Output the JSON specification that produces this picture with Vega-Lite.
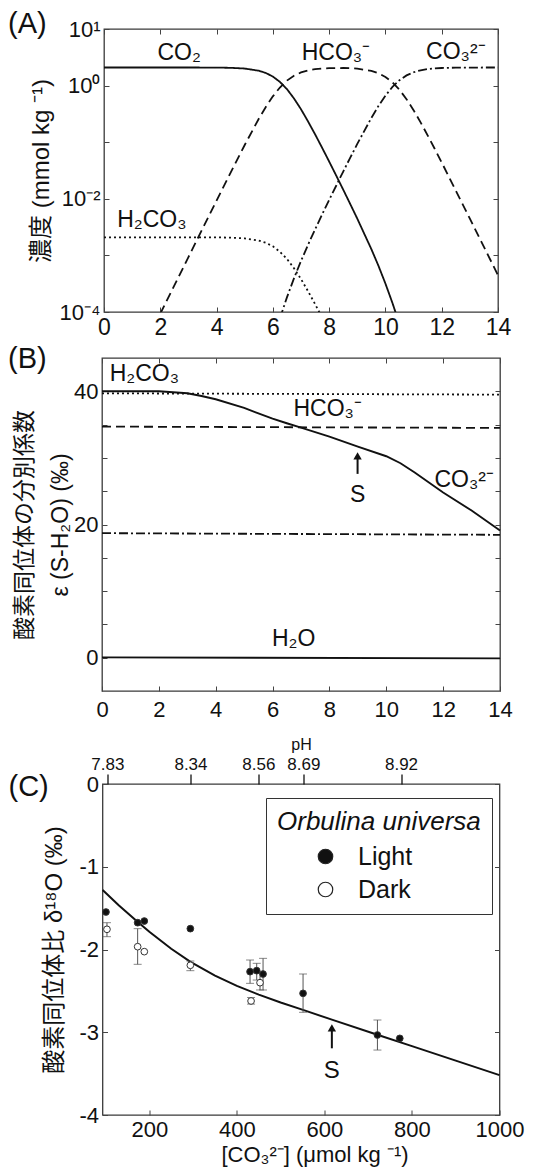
{
  "$schema": "https://vega.github.io/schema/vega-lite/v6.json",
  "padding": {"left": 7, "top": 9, "right": 5, "bottom": 5},
  "bounds": "flush",
  "center": true,
  "spacing": 46,
  "config": {
    "font": "Liberation Sans",
    "view": {"stroke": "#3a3a3a", "strokeWidth": 1.3},
    "axis": {"domain": false, "grid": false, "tickColor": "#444", "tickWidth": 1, "tickSize": -5, "labelColor": "#111", "labelFont": "Liberation Sans", "labelFontSize": 22, "labelPadding": 9, "labelFlush": false, "labelOverlap": false, "titleColor": "#111", "titleFont": "Liberation Sans, Noto Sans CJK JP", "titleFontWeight": "normal", "titleFontSize": 23},
    "title": {"font": "Liberation Sans", "fontSize": 29, "fontWeight": "normal", "anchor": "start", "frame": "group", "offset": 0, "baseline": "alphabetic", "color": "#111"},
    "text": {"font": "Liberation Sans", "color": "#111"}
  },
  "datasets": {
    "a_curves": [
      {"sp": "CO2", "pH": 0, "conc": 2.09}, {"sp": "CO2", "pH": 2, "conc": 2.09}, {"sp": "CO2", "pH": 3, "conc": 2.09}, {"sp": "CO2", "pH": 4, "conc": 2.08}, {"sp": "CO2", "pH": 4.5, "conc": 2.061}, {"sp": "CO2", "pH": 5, "conc": 2.0}, {"sp": "CO2", "pH": 5.5, "conc": 1.832}, {"sp": "CO2", "pH": 5.75, "conc": 1.671}, {"sp": "CO2", "pH": 6, "conc": 1.445}, {"sp": "CO2", "pH": 6.25, "conc": 1.164}, {"sp": "CO2", "pH": 6.5, "conc": 0.867}, {"sp": "CO2", "pH": 6.75, "conc": 0.594}, {"sp": "CO2", "pH": 7, "conc": 0.382}, {"sp": "CO2", "pH": 7.25, "conc": 0.233}, {"sp": "CO2", "pH": 7.5, "conc": 0.138}, {"sp": "CO2", "pH": 7.75, "conc": 0.0798}, {"sp": "CO2", "pH": 8, "conc": 0.0456}, {"sp": "CO2", "pH": 8.25, "conc": 0.0258}, {"sp": "CO2", "pH": 8.5, "conc": 0.0145}, {"sp": "CO2", "pH": 8.75, "conc": 0.00807}, {"sp": "CO2", "pH": 9, "conc": 0.00446}, {"sp": "CO2", "pH": 9.5, "conc": 0.00129}, {"sp": "CO2", "pH": 9.75, "conc": 0.000659}, {"sp": "CO2", "pH": 10, "conc": 0.000318}, {"sp": "CO2", "pH": 10.25, "conc": 0.000144}, {"sp": "CO2", "pH": 10.4, "conc": 0.0000857},
      {"sp": "HCO3", "pH": 2, "conc": 0.0000933}, {"sp": "HCO3", "pH": 2.5, "conc": 0.000295}, {"sp": "HCO3", "pH": 3, "conc": 0.000933}, {"sp": "HCO3", "pH": 3.5, "conc": 0.00295}, {"sp": "HCO3", "pH": 4, "conc": 0.00929}, {"sp": "HCO3", "pH": 4.5, "conc": 0.0291}, {"sp": "HCO3", "pH": 5, "conc": 0.0893}, {"sp": "HCO3", "pH": 5.5, "conc": 0.259}, {"sp": "HCO3", "pH": 5.75, "conc": 0.42}, {"sp": "HCO3", "pH": 6, "conc": 0.646}, {"sp": "HCO3", "pH": 6.25, "conc": 0.925}, {"sp": "HCO3", "pH": 6.5, "conc": 1.225}, {"sp": "HCO3", "pH": 6.75, "conc": 1.496}, {"sp": "HCO3", "pH": 7, "conc": 1.706}, {"sp": "HCO3", "pH": 7.25, "conc": 1.854}, {"sp": "HCO3", "pH": 7.5, "conc": 1.95}, {"sp": "HCO3", "pH": 7.75, "conc": 2.004}, {"sp": "HCO3", "pH": 8, "conc": 2.037}, {"sp": "HCO3", "pH": 8.5, "conc": 2.046}, {"sp": "HCO3", "pH": 8.75, "conc": 2.028}, {"sp": "HCO3", "pH": 9, "conc": 1.991}, {"sp": "HCO3", "pH": 9.5, "conc": 1.82}, {"sp": "HCO3", "pH": 9.75, "conc": 1.656}, {"sp": "HCO3", "pH": 10, "conc": 1.422}, {"sp": "HCO3", "pH": 10.25, "conc": 1.14}, {"sp": "HCO3", "pH": 10.5, "conc": 0.843}, {"sp": "HCO3", "pH": 10.75, "conc": 0.575}, {"sp": "HCO3", "pH": 11, "conc": 0.368}, {"sp": "HCO3", "pH": 11.25, "conc": 0.224}, {"sp": "HCO3", "pH": 11.5, "conc": 0.132}, {"sp": "HCO3", "pH": 11.75, "conc": 0.0766}, {"sp": "HCO3", "pH": 12, "conc": 0.0438}, {"sp": "HCO3", "pH": 12.5, "conc": 0.014}, {"sp": "HCO3", "pH": 13, "conc": 0.00446}, {"sp": "HCO3", "pH": 13.5, "conc": 0.00141}, {"sp": "HCO3", "pH": 14, "conc": 0.000447},
      {"sp": "CO3", "pH": 6.25, "conc": 0.0000769}, {"sp": "CO3", "pH": 6.5, "conc": 0.000181}, {"sp": "CO3", "pH": 6.75, "conc": 0.000393}, {"sp": "CO3", "pH": 7, "conc": 0.000798}, {"sp": "CO3", "pH": 7.25, "conc": 0.00154}, {"sp": "CO3", "pH": 7.5, "conc": 0.00288}, {"sp": "CO3", "pH": 7.75, "conc": 0.00527}, {"sp": "CO3", "pH": 8, "conc": 0.00953}, {"sp": "CO3", "pH": 8.25, "conc": 0.017}, {"sp": "CO3", "pH": 8.5, "conc": 0.0303}, {"sp": "CO3", "pH": 8.75, "conc": 0.0533}, {"sp": "CO3", "pH": 9, "conc": 0.0931}, {"sp": "CO3", "pH": 9.5, "conc": 0.269}, {"sp": "CO3", "pH": 9.75, "conc": 0.435}, {"sp": "CO3", "pH": 10, "conc": 0.665}, {"sp": "CO3", "pH": 10.25, "conc": 0.948}, {"sp": "CO3", "pH": 10.5, "conc": 1.247}, {"sp": "CO3", "pH": 10.75, "conc": 1.514}, {"sp": "CO3", "pH": 11, "conc": 1.722}, {"sp": "CO3", "pH": 11.25, "conc": 1.866}, {"sp": "CO3", "pH": 11.5, "conc": 1.959}, {"sp": "CO3", "pH": 11.75, "conc": 2.014}, {"sp": "CO3", "pH": 12, "conc": 2.046}, {"sp": "CO3", "pH": 12.5, "conc": 2.075}, {"sp": "CO3", "pH": 13, "conc": 2.084}, {"sp": "CO3", "pH": 14, "conc": 2.089},
      {"sp": "H2CO3", "pH": 0, "conc": 0.00209}, {"sp": "H2CO3", "pH": 4, "conc": 0.00208}, {"sp": "H2CO3", "pH": 4.5, "conc": 0.00206}, {"sp": "H2CO3", "pH": 5, "conc": 0.002}, {"sp": "H2CO3", "pH": 5.5, "conc": 0.00183}, {"sp": "H2CO3", "pH": 5.75, "conc": 0.00167}, {"sp": "H2CO3", "pH": 6, "conc": 0.00145}, {"sp": "H2CO3", "pH": 6.25, "conc": 0.00116}, {"sp": "H2CO3", "pH": 6.5, "conc": 0.000867}, {"sp": "H2CO3", "pH": 6.75, "conc": 0.000594}, {"sp": "H2CO3", "pH": 7, "conc": 0.000382}, {"sp": "H2CO3", "pH": 7.25, "conc": 0.000233}, {"sp": "H2CO3", "pH": 7.5, "conc": 0.000138}, {"sp": "H2CO3", "pH": 7.75, "conc": 0.0000798}
    ],
    "a_labels": [
      {"label": "CO₂", "x": 2.67, "y": 2.83},
      {"label": "HCO₃⁻", "x": 8.24, "y": 2.83},
      {"label": "CO₃²⁻", "x": 12.5, "y": 2.9},
      {"label": "H₂CO₃", "x": 1.7, "y": 0.00324}
    ],
    "b_lines": [
      {"sp": "H2CO3", "pH": 0, "eps": 39.7}, {"sp": "H2CO3", "pH": 14, "eps": 39.5},
      {"sp": "HCO3", "pH": 0, "eps": 34.7}, {"sp": "HCO3", "pH": 14, "eps": 34.5},
      {"sp": "CO3", "pH": 0, "eps": 18.7}, {"sp": "CO3", "pH": 14, "eps": 18.45},
      {"sp": "H2O", "pH": 0, "eps": 0.05}, {"sp": "H2O", "pH": 14, "eps": -0.1},
      {"sp": "S", "pH": 0, "eps": 40.0}, {"sp": "S", "pH": 2, "eps": 40.0}, {"sp": "S", "pH": 3, "eps": 39.7}, {"sp": "S", "pH": 3.5, "eps": 39.3}, {"sp": "S", "pH": 4, "eps": 38.8}, {"sp": "S", "pH": 5, "eps": 37.5}, {"sp": "S", "pH": 6, "eps": 35.9}, {"sp": "S", "pH": 6.5, "eps": 35.2}, {"sp": "S", "pH": 7, "eps": 34.55}, {"sp": "S", "pH": 8, "eps": 33.2}, {"sp": "S", "pH": 9, "eps": 31.7}, {"sp": "S", "pH": 10, "eps": 30.25}, {"sp": "S", "pH": 10.5, "eps": 29.2}, {"sp": "S", "pH": 11, "eps": 27.8}, {"sp": "S", "pH": 11.5, "eps": 26.3}, {"sp": "S", "pH": 12, "eps": 24.8}, {"sp": "S", "pH": 13, "eps": 22.1}, {"sp": "S", "pH": 14, "eps": 19.1}
    ],
    "b_labels": [
      {"label": "H₂CO₃", "x": 1.49, "y": 41.5},
      {"label": "HCO₃⁻", "x": 7.94, "y": 36.3},
      {"label": "CO₃²⁻", "x": 12.74, "y": 25.6},
      {"label": "H₂O", "x": 6.74, "y": 1.7},
      {"label": "S", "x": 8.99, "y": 23.4}
    ],
    "b_arrow": [{"x": 8.99, "y": 27.6, "y2": 30.3}],
    "c_pts": [
      {"cond": "Light", "x": 100.9, "y": -1.547}, {"cond": "Light", "x": 173.3, "y": -1.676}, {"cond": "Light", "x": 188.5, "y": -1.656}, {"cond": "Light", "x": 293.7, "y": -1.748}, {"cond": "Light", "x": 430.1, "y": -2.268}, {"cond": "Light", "x": 445.3, "y": -2.256}, {"cond": "Light", "x": 459.8, "y": -2.296}, {"cond": "Light", "x": 551.2, "y": -2.53}, {"cond": "Light", "x": 721.1, "y": -3.033}, {"cond": "Light", "x": 772.2, "y": -3.074},
      {"cond": "Dark", "x": 103.2, "y": -1.756}, {"cond": "Dark", "x": 173.3, "y": -1.966}, {"cond": "Dark", "x": 188.5, "y": -2.026}, {"cond": "Dark", "x": 293.7, "y": -2.191}, {"cond": "Dark", "x": 432.4, "y": -2.622}, {"cond": "Dark", "x": 452.9, "y": -2.401}
    ],
    "c_err": [
      {"x": 430.1, "lo": -2.127, "hi": -2.409}, {"x": 445.3, "lo": -2.167, "hi": -2.369}, {"x": 459.8, "lo": -2.107, "hi": -2.489}, {"x": 551.2, "lo": -2.296, "hi": -2.759}, {"x": 721.1, "lo": -2.852, "hi": -3.215},
      {"x": 103.2, "lo": -1.676, "hi": -1.845}, {"x": 173.3, "lo": -1.748, "hi": -2.179}, {"x": 293.7, "lo": -2.139, "hi": -2.256}, {"x": 432.4, "lo": -2.58, "hi": -2.66}, {"x": 452.9, "lo": -2.288, "hi": -2.489}
    ],
    "c_curve": [
      {"x": 93.3, "y": -1.281}, {"x": 130, "y": -1.466}, {"x": 173, "y": -1.664}, {"x": 200, "y": -1.786}, {"x": 250, "y": -1.991}, {"x": 294, "y": -2.149}, {"x": 350, "y": -2.315}, {"x": 400, "y": -2.44}, {"x": 450, "y": -2.545}, {"x": 500, "y": -2.64}, {"x": 551, "y": -2.729}, {"x": 617, "y": -2.848}, {"x": 721, "y": -3.03}, {"x": 800, "y": -3.168}, {"x": 900, "y": -3.343}, {"x": 1000, "y": -3.518}
    ],
    "c_arrow": [{"x": 617, "y": -3.194, "y2": -2.946}],
    "c_labels": [{"label": "S", "x": 617, "y": -3.557}]
  },
  "vconcat": [
    {
      "width": 394, "height": 283,
      "title": {"text": "(A)", "dx": -96, "dy": 25},
      "resolve": {"axis": {"x": "independent", "y": "independent"}},
      "layer": [
        {
          "data": {"name": "a_curves"},
          "mark": {"type": "line", "clip": true, "strokeWidth": 1.8, "color": "#111"},
          "encoding": {
            "x": {"field": "pH", "type": "quantitative", "scale": {"domain": [0, 14], "nice": false, "zero": false}, "axis": {"orient": "bottom", "values": [0, 2, 4, 6, 8, 10, 12, 14], "title": null, "labelFontSize": 23}},
            "y": {"field": "conc", "type": "quantitative", "scale": {"type": "log", "domain": [0.0001, 10], "nice": false}, "axis": {"orient": "left", "values": [0.0001, 0.001, 0.01, 0.1, 1, 10], "labelExpr": "datum.value > 5 ? '10¹' : datum.value > 0.5 ? '10⁰' : (datum.value > 0.005 && datum.value < 0.05) ? '10⁻²' : datum.value < 0.0005 ? '10⁻⁴' : ''", "title": "濃度 (mmol kg ⁻¹)", "titleFontSize": 24, "titlePadding": 6}},
            "strokeDash": {"field": "sp", "type": "nominal", "scale": {"domain": ["CO2", "HCO3", "CO3", "H2CO3"], "range": [[1, 0], [9, 5], [9, 3, 2, 3], [2, 3]]}, "legend": null}
          }
        },
        {
          "data": {"name": "a_curves"},
          "mark": {"type": "point", "opacity": 0, "clip": true},
          "encoding": {
            "x": {"field": "pH", "type": "quantitative", "axis": {"orient": "top", "values": [0, 2, 4, 6, 8, 10, 12, 14], "labels": false, "title": null}},
            "y": {"field": "conc", "type": "quantitative", "scale": {"type": "log"}, "axis": {"orient": "right", "values": [0.0001, 0.001, 0.01, 0.1, 1, 10], "labels": false, "title": null}}
          }
        },
        {
          "data": {"name": "a_labels"},
          "mark": {"type": "text", "fontSize": 23, "baseline": "alphabetic", "align": "center"},
          "encoding": {
            "x": {"field": "x", "type": "quantitative", "axis": null},
            "y": {"field": "y", "type": "quantitative", "scale": {"type": "log"}, "axis": null},
            "text": {"field": "label"}
          }
        }
      ]
    },
    {
      "width": 398, "height": 333,
      "title": {"text": "(B)", "dx": -94, "dy": 20},
      "resolve": {"axis": {"x": "independent", "y": "independent"}},
      "layer": [
        {
          "data": {"name": "b_lines"},
          "transform": [{"filter": "datum.sp == 'S' || datum.sp == 'H2O'"}],
          "mark": {"type": "line", "strokeWidth": 1.9, "color": "#111"},
          "encoding": {
            "x": {"field": "pH", "type": "quantitative", "scale": {"domain": [0, 14], "nice": false, "zero": false}, "axis": {"orient": "bottom", "values": [0, 2, 4, 6, 8, 10, 12, 14], "title": null, "labelPadding": 13}},
            "y": {"field": "eps", "type": "quantitative", "scale": {"domain": [-5, 45], "nice": false, "zero": false}, "axis": {"orient": "left", "values": [0, 5, 10, 15, 20, 25, 30, 35, 40], "labelExpr": "datum.value % 20 === 0 ? '' + datum.value : ''", "title": ["酸素同位体の分別係数", "ε (S-H₂O) (‰)"], "titleLineHeight": 36, "titlePadding": 1}},
            "detail": {"field": "sp", "type": "nominal"}
          }
        },
        {
          "data": {"name": "b_lines"},
          "transform": [{"filter": "datum.sp != 'S' && datum.sp != 'H2O'"}],
          "mark": {"type": "line", "strokeWidth": 1.8, "color": "#111"},
          "encoding": {
            "x": {"field": "pH", "type": "quantitative", "axis": {"orient": "top", "values": [0, 2, 4, 6, 8, 10, 12, 14], "labels": false, "title": null}},
            "y": {"field": "eps", "type": "quantitative", "axis": {"orient": "right", "values": [0, 5, 10, 15, 20, 25, 30, 35, 40], "labels": false, "title": null}},
            "strokeDash": {"field": "sp", "type": "nominal", "scale": {"domain": ["H2CO3", "HCO3", "CO3"], "range": [[2, 3], [9, 5], [9, 3, 2, 3]]}, "legend": null}
          }
        },
        {
          "data": {"name": "b_labels"},
          "mark": {"type": "text", "fontSize": 23, "baseline": "alphabetic", "align": "center"},
          "encoding": {
            "x": {"field": "x", "type": "quantitative", "axis": null},
            "y": {"field": "y", "type": "quantitative", "axis": null},
            "text": {"field": "label"}
          }
        },
        {
          "data": {"name": "b_arrow"},
          "mark": {"type": "rule", "strokeWidth": 2, "color": "#111"},
          "encoding": {
            "x": {"field": "x", "type": "quantitative", "axis": null},
            "y": {"field": "y", "type": "quantitative", "axis": null},
            "y2": {"field": "y2"}
          }
        },
        {
          "data": {"name": "b_arrow"},
          "mark": {"type": "point", "shape": "triangle-up", "filled": true, "size": 70, "color": "#111", "opacity": 1},
          "encoding": {
            "x": {"field": "x", "type": "quantitative", "axis": null},
            "y": {"field": "y2", "type": "quantitative", "axis": null}
          }
        }
      ]
    },
    {
      "width": 397, "height": 1,
      "view": {"stroke": null},
      "data": {"values": [{"v": 0}]},
      "mark": {"type": "point", "opacity": 0},
      "encoding": {}
    },
    {
      "width": 397, "height": 331,
      "title": {"text": "(C)", "dx": -94, "dy": 70},
      "resolve": {"axis": {"x": "independent", "y": "independent"}},
      "layer": [
        {
          "data": {"name": "c_curve"},
          "mark": {"type": "line", "strokeWidth": 2, "color": "#111"},
          "encoding": {
            "x": {"field": "x", "type": "quantitative", "scale": {"domain": [93, 1000], "nice": false, "zero": false}, "axis": {"orient": "bottom", "values": [200, 400, 600, 800, 1000], "format": "d", "title": "[CO₃²⁻] (μmol kg ⁻¹)", "titleFontSize": 22, "titlePadding": 4, "titleX": 212}},
            "y": {"field": "y", "type": "quantitative", "scale": {"domain": [-4, 0], "nice": false, "zero": false}, "axis": {"orient": "left", "values": [0, -1, -2, -3, -4], "labelExpr": "'' + datum.value", "title": "酸素同位体比  δ¹⁸O (‰)", "titleFontSize": 24, "titlePadding": 12}}
          }
        },
        {
          "data": {"name": "c_curve"},
          "mark": {"type": "point", "opacity": 0},
          "encoding": {
            "x": {"field": "x", "type": "quantitative", "axis": {"orient": "top", "values": [104, 294, 449, 552, 775], "labelExpr": "datum.value == 104 ? '7.83' : datum.value == 294 ? '8.34' : datum.value == 449 ? '8.56' : datum.value == 552 ? '8.69' : '8.92'", "title": "pH", "titleFontSize": 16, "titlePadding": 3, "labelFontSize": 17, "labelPadding": 1, "tickSize": 10, "tickColor": "#111", "tickWidth": 1.3}},
            "y": {"field": "y", "type": "quantitative", "axis": {"orient": "right", "values": [0, -1, -2, -3, -4], "labels": false, "title": null}}
          }
        },
        {
          "data": {"name": "c_err"},
          "mark": {"type": "errorbar", "ticks": {"size": 8}, "color": "#555", "thickness": 1},
          "encoding": {
            "x": {"field": "x", "type": "quantitative", "axis": null},
            "y": {"field": "lo", "type": "quantitative", "axis": null},
            "y2": {"field": "hi"}
          }
        },
        {
          "data": {"name": "c_pts"},
          "mark": {"type": "point", "filled": true, "size": 45, "stroke": "#333", "strokeWidth": 1, "opacity": 1},
          "encoding": {
            "x": {"field": "x", "type": "quantitative", "axis": null},
            "y": {"field": "y", "type": "quantitative", "axis": null},
            "fill": {"field": "cond", "type": "nominal", "scale": {"domain": ["Light", "Dark"], "range": ["#111", "white"]},
              "legend": {"orient": "none", "legendX": 164, "legendY": 769, "title": "Orbulina universa", "titleFontStyle": "italic", "titleFontSize": 26, "titleFontWeight": "normal", "titleFont": "Liberation Sans", "titleColor": "#111", "titleLimit": 400, "titlePadding": 9, "labelFontSize": 25, "labelFont": "Liberation Sans", "labelColor": "#111", "labelOffset": 20, "symbolType": "circle", "symbolSize": 210, "symbolStrokeColor": "#222", "symbolStrokeWidth": 1.2, "symbolOffset": 36, "rowPadding": 7, "padding": 11, "strokeColor": "#333", "fillColor": "white"}}
          }
        },
        {
          "data": {"name": "c_arrow"},
          "mark": {"type": "rule", "strokeWidth": 2, "color": "#111"},
          "encoding": {
            "x": {"field": "x", "type": "quantitative", "axis": null},
            "y": {"field": "y", "type": "quantitative", "axis": null},
            "y2": {"field": "y2"}
          }
        },
        {
          "data": {"name": "c_arrow"},
          "mark": {"type": "point", "shape": "triangle-up", "filled": true, "size": 70, "color": "#111", "opacity": 1},
          "encoding": {
            "x": {"field": "x", "type": "quantitative", "axis": null},
            "y": {"field": "y2", "type": "quantitative", "axis": null}
          }
        },
        {
          "data": {"name": "c_labels"},
          "mark": {"type": "text", "fontSize": 24, "baseline": "alphabetic", "align": "center"},
          "encoding": {
            "x": {"field": "x", "type": "quantitative", "axis": null},
            "y": {"field": "y", "type": "quantitative", "axis": null},
            "text": {"field": "label"}
          }
        }
      ]
    }
  ]
}
